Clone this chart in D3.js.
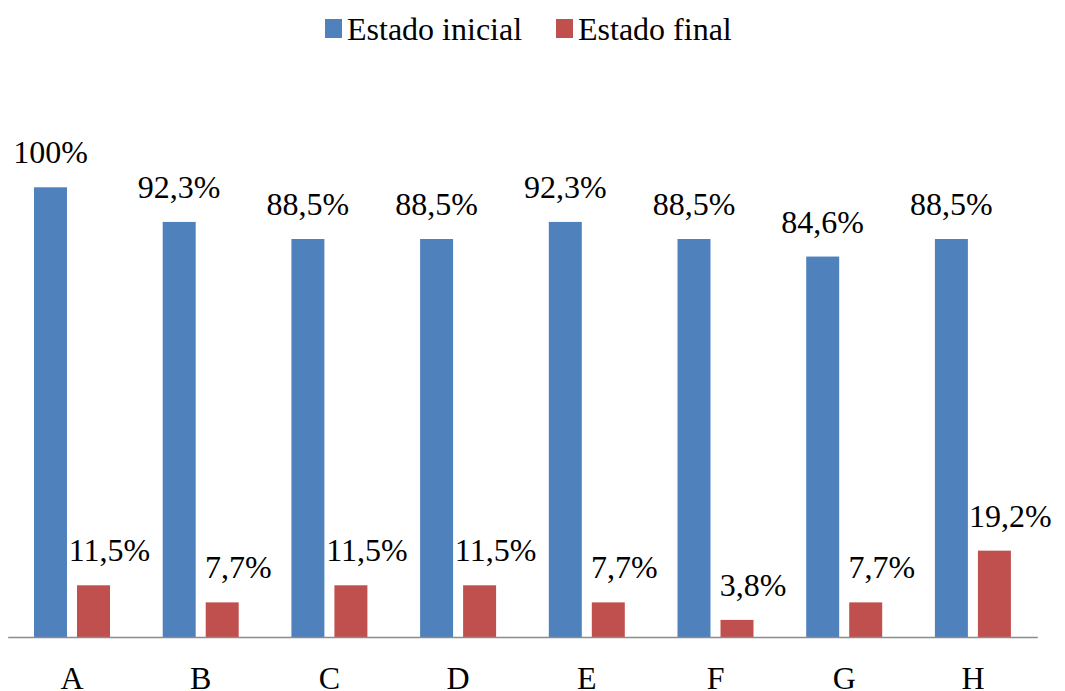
<!DOCTYPE html>
<html>
<head>
<meta charset="utf-8">
<script src="https://cdn.jsdelivr.net/npm/d3@7"></script>
<style>
  body { margin:0; background:#fff; }
  svg { display:block; }
</style>
</head>
<body>
<div id="chart"></div>
<script>
var categories = ["A","B","C","D","E","F","G","H"];
var seriesNames = ["Estado inicial","Estado final"];
var initialValues = [100, 92.3, 88.5, 88.5, 92.3, 88.5, 84.6, 88.5];
var finalValues = [11.5, 7.7, 11.5, 11.5, 7.7, 3.8, 7.7, 19.2];
var seriesColors = ["#4F81BD","#C0504D"];

var width = 1065, height = 691;
var baseY = 637, topY = 187.3;
var serif = "'Liberation Serif', 'Times New Roman', serif";

var svg = d3.select("#chart").append("svg")
	.attr("width", width).attr("height", height);

var x = d3.scaleBand().domain(categories).range([7.7, 1037.3]);
var x1 = d3.scaleBand().domain(seriesNames).range([26.3, 102.3]).paddingInner(0.233);
var y = d3.scaleLinear().domain([0, 100]).range([baseY, topY]);

function fmt(v){
	return (v == 100 ? "100" : v.toFixed(1).replace(".", ",")) + "%";
}

var data = [];
categories.forEach(function(c, i){
	data.push({cat: c, s: 0, v: initialValues[i]});
	data.push({cat: c, s: 1, v: finalValues[i]});
});

// bars
svg.append("g").selectAll("rect")
	.data(data).enter().append("rect")
	.attr("x", function(d){ return x(d.cat) + x1(seriesNames[d.s]); })
	.attr("y", function(d){ return y(d.v); })
	.attr("width", x1.bandwidth())
	.attr("height", function(d){ return baseY - y(d.v); })
	.attr("fill", function(d){ return seriesColors[d.s]; });

// value labels (red ones sit a bit to the right, like the original)
svg.append("g").selectAll("text")
	.data(data).enter().append("text")
	.attr("x", function(d){ return x(d.cat) + x1(seriesNames[d.s]) + x1.bandwidth()/2 + (d.s == 1 ? 16 : 0); })
	.attr("y", function(d){ return y(d.v) - 24; })
	.attr("text-anchor", "middle")
	.style("font-family", serif)
	.style("font-size", "32px")
	.attr("fill", "#000")
	.text(function(d){ return fmt(d.v); });

// x axis
var xAxis = svg.append("g")
	.attr("transform", "translate(0," + baseY + ")")
	.call(d3.axisBottom(x).tickSize(0).tickSizeOuter(0).tickPadding(29));
xAxis.select(".domain").attr("stroke", "#8c8c8c").attr("stroke-width", 1.5);
xAxis.selectAll("text")
	.style("font-family", serif)
	.style("font-size", "32px").attr("fill", "#000");

// legend
var legend = svg.append("g");
var legX = [325, 556];
seriesNames.forEach(function(n, i){
	legend.append("rect")
		.attr("x", legX[i]).attr("y", 19)
		.attr("width", 17).attr("height", 19)
		.attr("fill", seriesColors[i]);
	legend.append("text")
		.attr("x", legX[i] + 22).attr("y", 40)
		.style("font-family", serif)
		.style("font-size", "32px")
		.attr("fill", "#000")
		.text(n);
});
</script>
</body>
</html>
